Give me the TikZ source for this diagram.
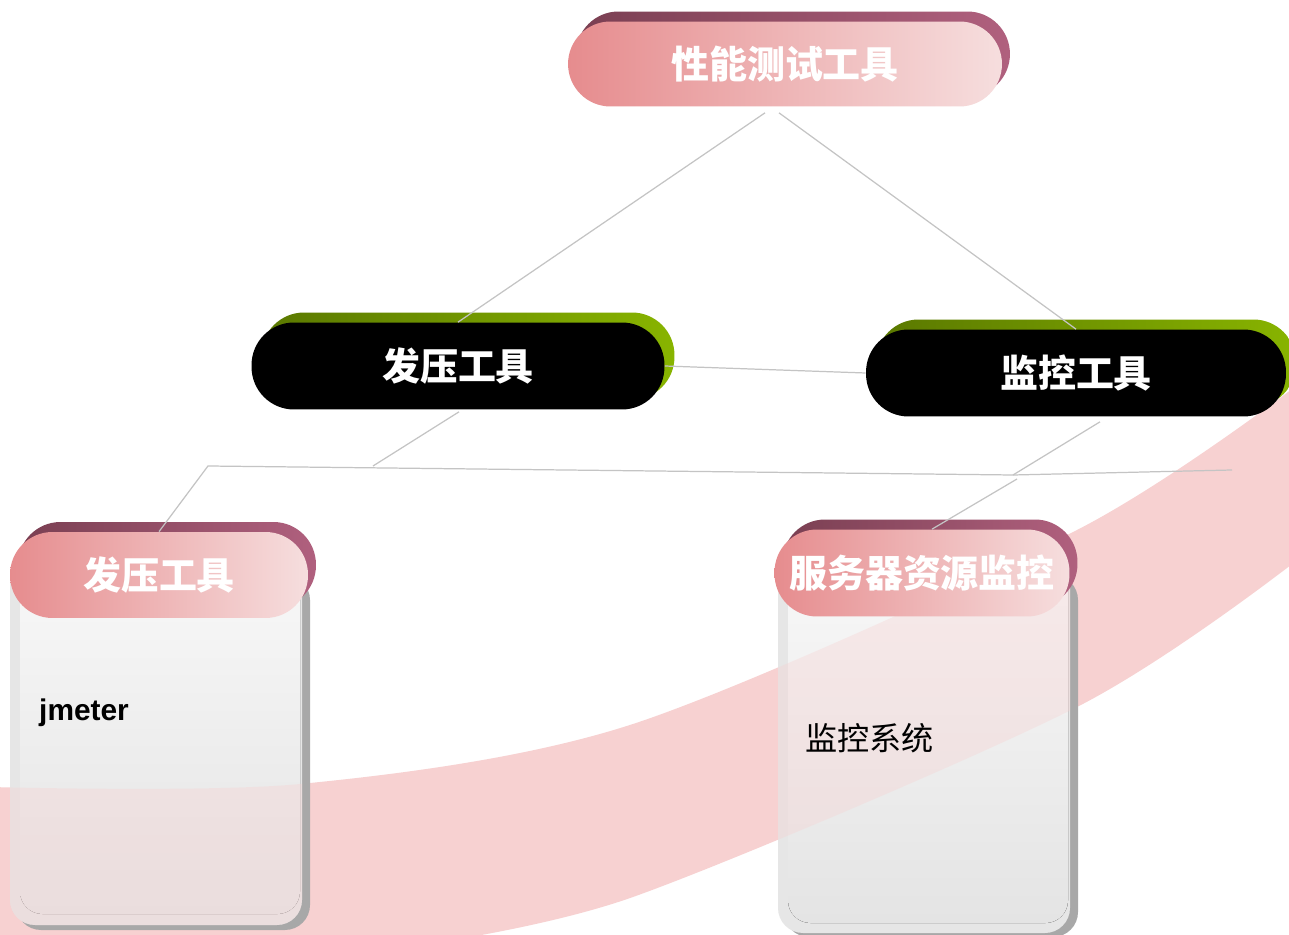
\documentclass[tikz,border=0pt]{standalone}
\usepackage{fontspec}
\setmainfont{Liberation Sans}
\newfontfamily\cjk{Noto Sans CJK SC}
\usetikzlibrary{shadows,backgrounds}
\definecolor{bandpink}{HTML}{F7D1D1}
\definecolor{pinkL}{HTML}{E68C8E}
\definecolor{pinkR}{HTML}{F6DEDE}
\definecolor{mauveL}{HTML}{7A3F52}
\definecolor{mauveR}{HTML}{B0607E}
\definecolor{greenL}{HTML}{5A7800}
\definecolor{greenR}{HTML}{88B400}
\definecolor{linkgray}{HTML}{C4C4C4}
\definecolor{cardgray}{HTML}{A8A8A8}
\definecolor{rimgray}{HTML}{E6E6E6}
\definecolor{bodytop}{HTML}{F8F8F8}
\definecolor{bodylow}{HTML}{E4E4E4}
\tikzset{
  pill/.style={rounded corners=0.85cm, inner sep=0pt, text=white,
    font=\cjk\bfseries\fontsize{21.6pt}{21.6pt}\selectfont},
  pinkpill/.style={pill, left color=pinkL, right color=pinkR,
    general shadow={shadow xshift=0.16cm, shadow yshift=0.2cm, left color=mauveL, right color=mauveR}},
  blackpill/.style={pill, fill=black,
    general shadow={shadow xshift=0.2cm, shadow yshift=0.2cm, left color=greenL, right color=greenR}},
  link/.style={linkgray, line width=0.7pt},
  cardshadow/.style={fill=cardgray, rounded corners=0.5cm},
  cardrim/.style={fill=rimgray, rounded corners=0.5cm},
  cardbody/.style={top color=bodytop, bottom color=bodylow, rounded corners=0.45cm},
  bandpath/.style={insert path={plot[smooth] coordinates {(-10,787) (300,784) (633,724) (1077,530) (1300,383)}
      -- plot[smooth] coordinates {(1300,558) (1077,707) (633,897) (400,948)} -- (-10,948) -- cycle}}
}
\begin{document}
\begin{tikzpicture}[x=0.02cm, y=-0.02cm]
  \useasboundingbox (0,0) rectangle (1289,935);
  \fill[cardshadow] (16,575) rectangle (310,930);
  \fill[cardrim] (10,560) rectangle (302,925);
  \fill[cardbody] (20,560) rectangle (300,914);
  \begin{scope}
    \clip[rounded corners=0.5cm] (10,560) rectangle (302,925);
    \fill[bandpink, opacity=0.35, bandpath];
  \end{scope}
  \fill[cardshadow] (784,575) rectangle (1078,937);
  \fill[cardrim] (778,560) rectangle (1070,933);
  \fill[cardbody] (788,560) rectangle (1068,923);
  \begin{scope}
    \clip[rounded corners=0.5cm] (778,560) rectangle (1070,933);
    \fill[bandpink, opacity=0.35, bandpath];
  \end{scope}
  \node[pinkpill, minimum width=8.68cm, minimum height=1.7cm] (tool) at (785,64) {性能测试工具};
  \node[blackpill, minimum width=8.26cm, minimum height=1.74cm] (press) at (458,366) {发压工具};
  \node[blackpill, minimum width=8.4cm, minimum height=1.74cm] (monitor) at (1076,373) {监控工具};
  \node[pinkpill, minimum width=5.96cm, minimum height=1.72cm] (presscard) at (159,575) {发压工具};
  \node[pinkpill, minimum width=5.9cm, minimum height=1.74cm] (srvcard) at (922,573) {服务器资源监控};
  \node[anchor=west, font=\bfseries\fontsize{17pt}{17pt}\selectfont] (jm) at (33,713) {jmeter};
  \node[anchor=west, font=\cjk\fontsize{18.3pt}{18.3pt}\selectfont] (mon) at (799,738) {监控系统};
  \coordinate (hl) at (208,466);
  \coordinate (hm) at (1013,475);
  \coordinate (hr) at (1232,470);
  \coordinate (pj) at (373,466);
  \draw[link] ([shift={(-20,6)}]tool.south) -- (press.north);
  \draw[link] ([shift={(-6,6)}]tool.south) -- (monitor.north);
  \draw[link] (press.east) -- (monitor.west);
  \draw[link] ([shift={(1,2)}]press.south) -- (pj);
  \draw[link] (presscard.north) -- (hl) -- (hm) -- (hr);
  \draw[link] ([shift={(24,5)}]monitor.south) -- (hm);
  \draw[link] ([shift={(4,4)}]hm) -- ([xshift=0.2cm]srvcard.north);
  \begin{scope}[on background layer]
    \fill[white] (0,0) rectangle (1289,935);
    \fill[bandpink, bandpath];
  \end{scope}
\end{tikzpicture}
\end{document}
